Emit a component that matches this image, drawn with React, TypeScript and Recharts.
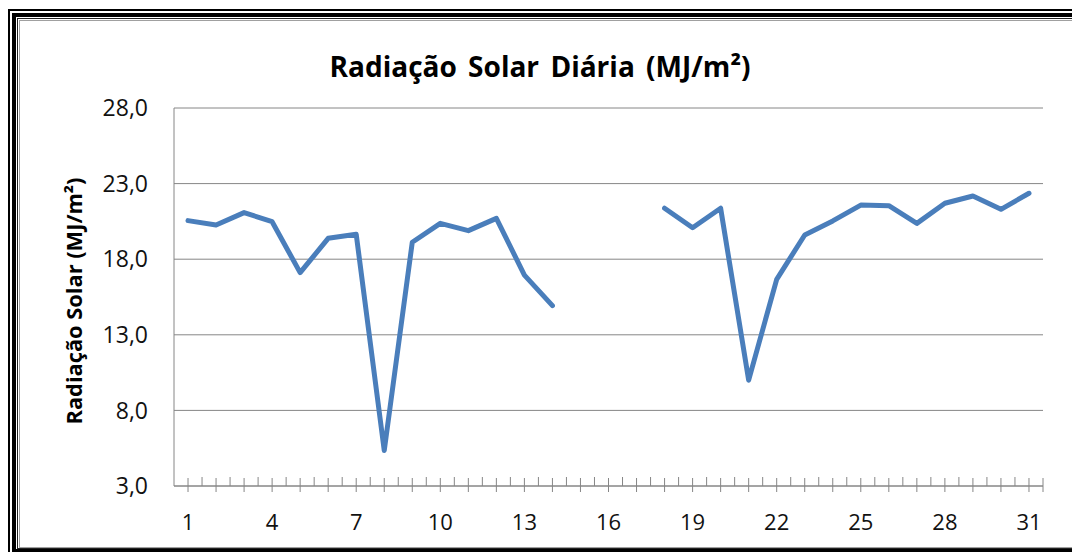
import { LineChart, Line, XAxis, YAxis, CartesianGrid } from 'recharts';

const days = [
  1, 2, 3, 4, 5, 6, 7, 8, 9, 10, 11, 12, 13, 14, 15, 16,
  17, 18, 19, 20, 21, 22, 23, 24, 25, 26, 27, 28, 29, 30, 31,
];

// daily solar radiation, MJ/m2 (days 15-17 missing)
const radiation = [
  20.55, 20.26, 21.08, 20.48, 17.11, 19.38, 19.65, 5.35, 19.12, 20.37,
  19.89, 20.7, 16.95, 14.93, null, null, null, 21.37, 20.08, 21.37,
  10.0, 16.67, 19.6, 20.53, 21.58, 21.54, 20.37, 21.7, 22.18, 21.3, 22.36,
];

const dayLabels = [1, 4, 7, 10, 13, 16, 19, 22, 25, 28, 31];
const yTicks = [3, 8, 13, 18, 23, 28];

const title = 'Radiação Solar Diária (MJ/m²)';
const yTitle = 'Radiação Solar (MJ/m²)';

const data = days.map((d, i) => ({ day: d, value: radiation[i] }));
const xTicks = days.flatMap((d) => [d, d + 0.5]);

const FONT = '"Open Sans", sans-serif';
const AXIS = '#868686';

const DayTick = ({ x, y, payload }: any) => {
  const v = payload.value;
  const isDay = Number.isInteger(v);
  const isEnd = v === 31.5;
  return (
    <g>
      {isDay || isEnd ? (
        <line x1={x} x2={x} y1={y - 8} y2={y + 6} stroke={AXIS} strokeWidth={1} />
      ) : (
        <line x1={x} x2={x} y1={y - 9} y2={y} stroke={AXIS} strokeWidth={1} />
      )}
      {dayLabels.includes(v) && (
        <text x={x} y={y + 35} textAnchor="middle" dominantBaseline="central"
          fontFamily={FONT} fontSize={22} fill="#111">
          {v}
        </text>
      )}
    </g>
  );
};

function Frame() {
  return (
    <svg width={1072} height={552} style={{ position: 'absolute', left: 0, top: 0 }}>
      <rect x={9} y={10} width={1100} height={546} fill="none" stroke="#000" strokeWidth={2} />
      <rect x={14} y={15} width={1100} height={536} fill="none" stroke="#000" strokeWidth={4} />
      <rect x={17.5} y={18.5} width={1100} height={530} fill="none" stroke="#222" strokeWidth={1} />
      <rect x={19.5} y={20.5} width={1100} height={527} fill="none" stroke="#a0a0a0" strokeWidth={1} />
      <text x={540} y={77} textAnchor="middle" fontFamily={FONT} fontWeight={700}
        fontSize={28} textLength={421} lengthAdjust="spacingAndGlyphs" fill="#000"
        style={{ wordSpacing: 4 }}>
        {title}
      </text>
      <text x={0} y={0} transform="translate(82,301) rotate(-90)" textAnchor="middle"
        fontFamily={FONT} fontWeight={700} fontSize={21} textLength={247}
        lengthAdjust="spacingAndGlyphs" fill="#000">
        {yTitle}
      </text>
    </svg>
  );
}

export default function App() {
  return (
    <div style={{ position: 'fixed', left: 0, top: 0, width: 1072, height: 552, overflow: 'hidden', background: '#fff' }}>
      <Frame />
      <div style={{ position: 'absolute', left: 0, top: 0 }}>
        <LineChart width={1072} height={552} data={data}
          margin={{ top: 108, right: 29, bottom: 26, left: 0 }}>
          <CartesianGrid vertical={false} stroke={AXIS} strokeWidth={1} />
          <XAxis dataKey="day" type="number" domain={[0.5, 31.5]} ticks={xTicks}
            interval={0} height={40} tickSize={0} tickMargin={0} tickLine={false}
            axisLine={{ stroke: AXIS }} tick={<DayTick />} />
          <YAxis type="number" domain={[3, 28]} ticks={yTicks} interval={0} width={174}
            tickLine={false} tickSize={0} tickMargin={26} axisLine={{ stroke: AXIS }}
            tickFormatter={(v: number) => v.toFixed(1).replace('.', ',')}
            tick={{ fontFamily: FONT, fontSize: 23, fill: '#111' }} />
          <Line type="linear" dataKey="value" stroke="#4A7EBB" strokeWidth={5}
            strokeLinejoin="round" strokeLinecap="round"
            dot={false} activeDot={false} isAnimationActive={false} />
        </LineChart>
      </div>
    </div>
  );
}
